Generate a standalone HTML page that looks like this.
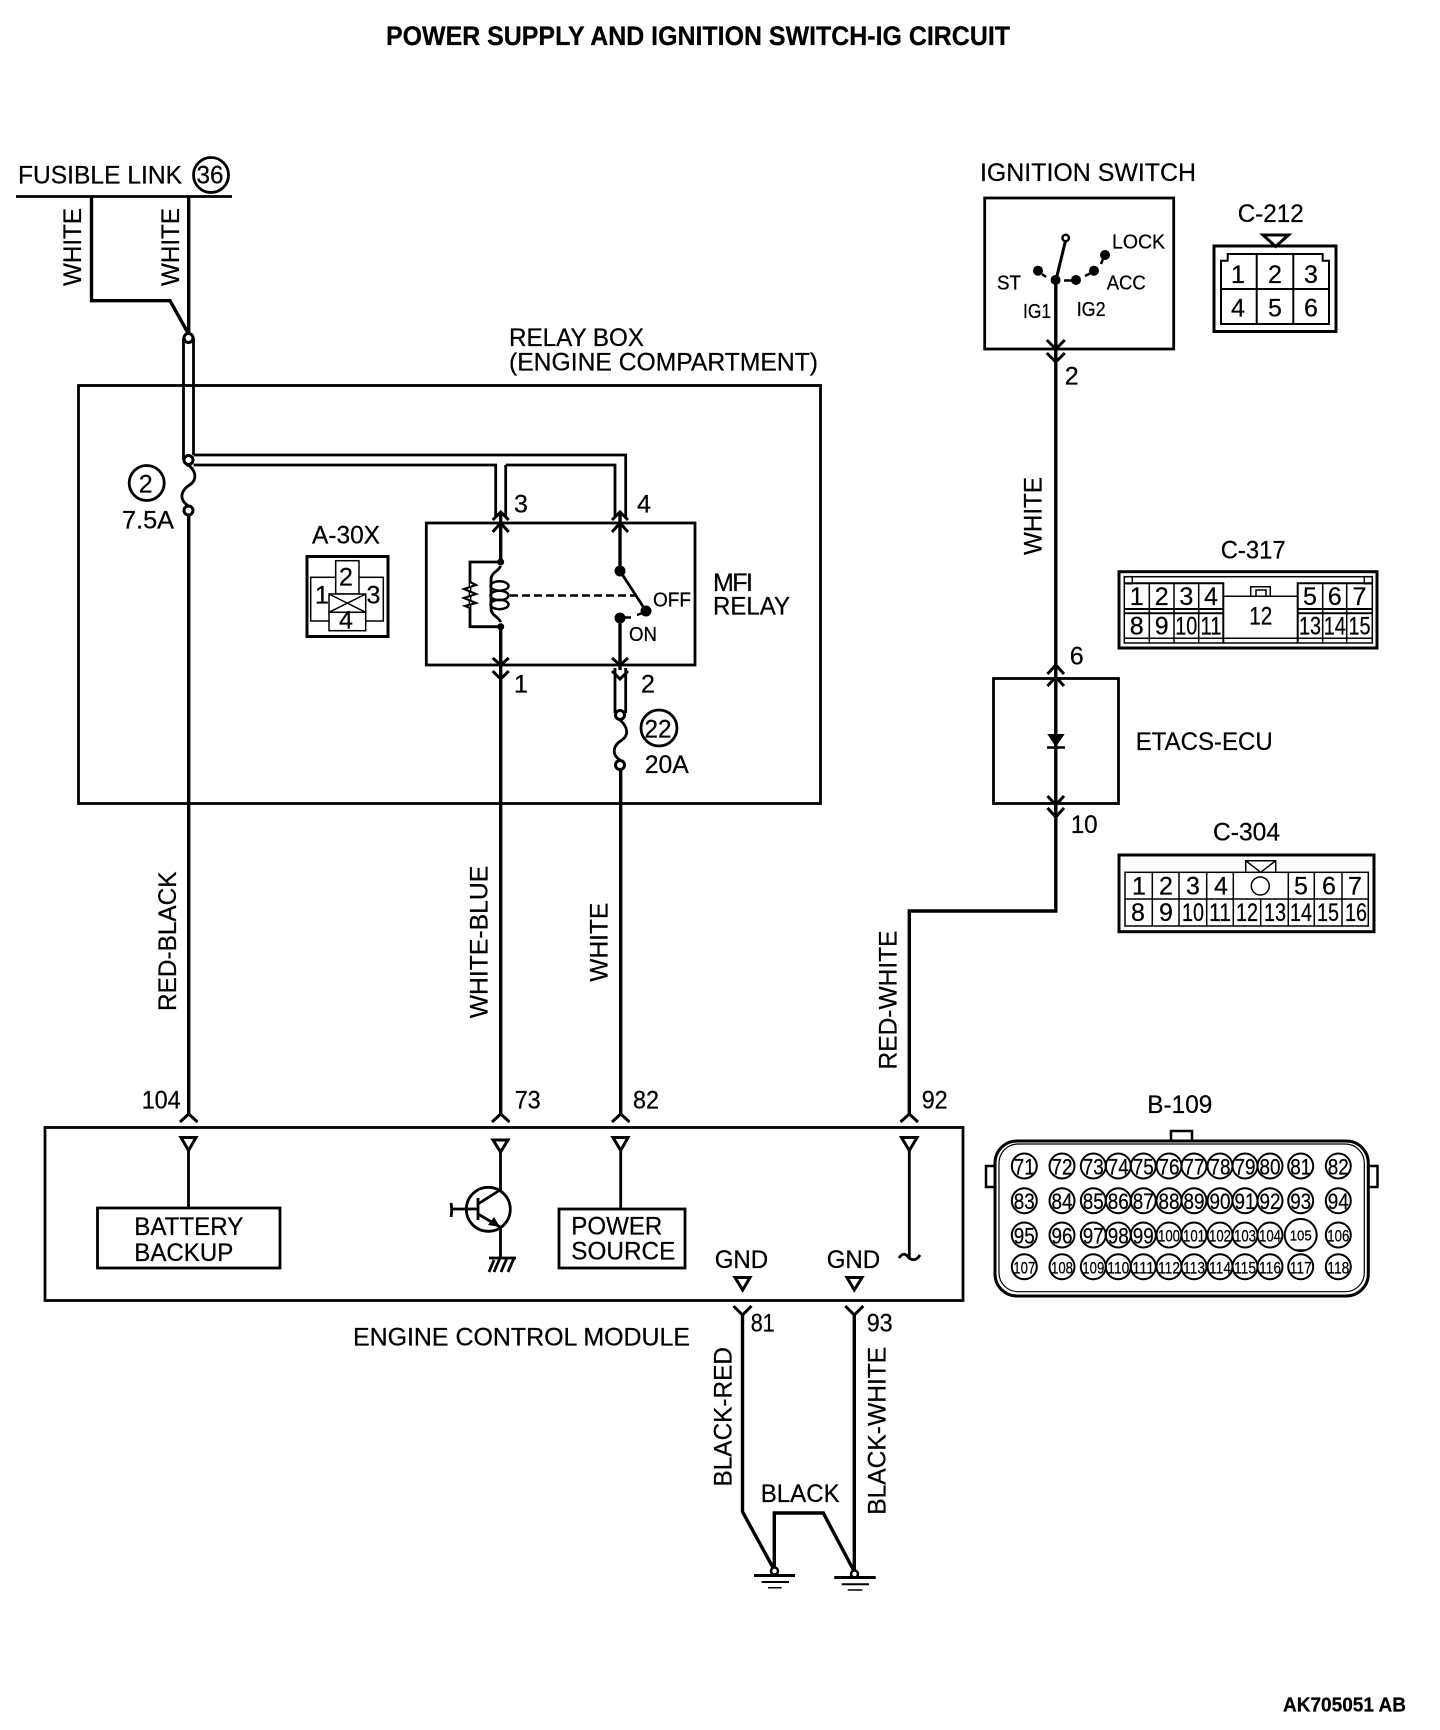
<!DOCTYPE html>
<html><head><meta charset="utf-8"><title>Power Supply and Ignition Switch-IG Circuit</title>
<style>
html,body{margin:0;padding:0;background:#fff}
svg{display:block}
text{font-family:"Liberation Sans",sans-serif;font-size:25px;fill:#000;stroke:#000;stroke-width:.25px}
text:not([transform]){transform:translate(-1px,.5px)}
.m{text-anchor:middle}
.s{font-size:20px}
.b{font-weight:bold}
</style></head><body>
<svg xmlns="http://www.w3.org/2000/svg" width="1440" height="1730" viewBox="0 0 1440 1730">
<rect width="1440" height="1730" fill="#fff"/>

<!-- Boxes -->
<g fill="none" stroke="#000" stroke-width="2.8">
<rect x="78.5" y="385.5" width="742" height="418"/>
<rect x="426.3" y="523" width="268.7" height="142"/>
<rect x="984.7" y="198" width="189" height="151"/>
<rect x="993.5" y="678.5" width="125" height="125"/>
<rect x="45" y="1127.5" width="918" height="173"/>
<rect x="97.5" y="1208" width="182.5" height="60"/>
<rect x="559" y="1209" width="126" height="59"/>
</g>

<!-- Main wires -->
<g fill="none" stroke="#000" stroke-width="3.4">
<path d="M188.7 196V334"/>
<path d="M188.7 515V1114"/>
<path d="M500.7 626V1114"/>
<path d="M620.7 770V1114"/>
<path d="M500.7 513V562"/>
<path d="M620 513V571"/>
<path d="M620 618V670"/>
<path d="M1055.8 280V665"/>
<path d="M1055.8 665V911H909.3V1114"/>
<path d="M742.5 1313V1511.7L774.3 1570"/>
<path d="M854.3 1313V1571"/>
<path d="M774.3 1570V1513H823.3L854 1571"/>
<path d="M91.5 196V300.7H170L188 333"/>
</g>

<!-- Double wires -->
<g fill="none" stroke="#000" stroke-width="2.8">
<path d="M183.5 338V460M193.5 338V455"/>
<path d="M193.5 455H625.7V517M193.5 465H495.7V517M505.7 465H615V517M505.7 465V517"/>
<path d="M615 668V713M625.7 668V713"/>
<path d="M16 196.5H232"/>
</g>
<path d="M183.5 338L188.5 332L193.5 338M183.5 460L188.5 466" fill="none" stroke="#000" stroke-width="3"/>

<!-- Junction nodes & fuses -->
<g fill="#fff" stroke="#000" stroke-width="3">
<circle cx="188.5" cy="338" r="4.5"/>
<circle cx="188.5" cy="460" r="4.5"/>
<circle cx="188.5" cy="510.5" r="4.5"/>
<circle cx="620" cy="715" r="4.5"/>
<circle cx="620" cy="765" r="4.5"/>
</g>
<g fill="none" stroke="#000" stroke-width="2.8">
<path d="M188.5 465C196 471 197 479 191 484C181 490 178 499 188.5 506"/>
<path d="M620 720C628 727 629 735 622 740C612 746 612 755 620 760"/>
<circle cx="211" cy="175" r="17.5"/>
<circle cx="146.7" cy="483" r="17.5"/>
<circle cx="659" cy="728" r="18"/>
</g>

<!-- Chevrons -->
<g fill="none" stroke="#000" stroke-width="3">
<path d="M492.7 520L500.7 512L508.7 520M492.7 532L500.7 523L508.7 532"/>
<path d="M612 520L620 512L628 520M612 532L620 523L628 532"/>
<path d="M492.7 658L500.7 665L508.7 658M492.7 671L500.7 679L508.7 671"/>
<path d="M612 658L620 665L628 658M612 671L620 679L628 671"/>
<path d="M1046.8 340L1055.8 349L1064.8 340M1046.8 353L1055.8 362L1064.8 353"/>
<path d="M1047.5 674L1055.8 665L1064 674M1047.5 686L1055.8 677L1064 686"/>
<path d="M1047.5 796L1055.8 805L1064 796M1047.5 808L1055.8 817L1064 808"/>
<path d="M180 1122L188.7 1114L197.5 1122"/>
<path d="M492 1122L500.7 1114L509.5 1122"/>
<path d="M612 1122L620.7 1114L629.5 1122"/>
<path d="M900.5 1122L909.3 1114L918 1122"/>
<path d="M733.5 1306L742.5 1315L751.5 1306"/>
<path d="M845.3 1306L854.3 1315L863.3 1306"/>
</g>

<!-- Relay internals -->
<g fill="#000" stroke="none">
<circle cx="500.7" cy="562" r="3.5"/>
<circle cx="500.7" cy="626.7" r="3.5"/>
<circle cx="620" cy="571" r="5.5"/>
<circle cx="646" cy="611" r="5.5"/>
<circle cx="620" cy="618" r="5.5"/>
</g>
<g fill="none" stroke="#000" stroke-width="2.8">
<path d="M500.7 562H470V626.7H500.7"/>
<path d="M470 582L476 585L464 589L476 594L464 598L476 603L465 606L470 608" stroke-width="2.2" fill="#fff"/>
<path d="M500.7 566C498 572 491 572 491 580V608C491 616 498 616 500.7 622"/>
<ellipse cx="499.5" cy="586" rx="9" ry="4.7" stroke-width="2.5"/>
<ellipse cx="499.5" cy="595.5" rx="9" ry="4.7" stroke-width="2.5"/>
<ellipse cx="499.5" cy="604.5" rx="9" ry="4.7" stroke-width="2.5"/>
<path d="M620 571L646 611"/>
<path d="M510 595.5H636" stroke-dasharray="8 4" stroke-width="2.5"/>
<path d="M620 617.5H631" stroke-width="2.5"/>
<path d="M637 615L644 612.5" stroke-width="2.5"/>
</g>

<!-- A-30X -->
<g fill="none" stroke="#000" stroke-width="3"><rect x="307" y="556.5" width="81" height="80"/></g>
<g fill="none" stroke="#000" stroke-width="1.5">
<rect x="310.7" y="577.3" width="72.6" height="43.7"/>
<rect x="335.7" y="560.7" width="23.3" height="33.3" fill="#fff"/>
<rect x="329" y="594" width="36.7" height="18.3" fill="#fff"/>
<path d="M329 594L365.7 612.3M365.7 594L329 612.3"/>
<rect x="329" y="612.3" width="36.7" height="18.4" fill="#fff"/>
</g>

<!-- Ignition switch internals -->
<g fill="#000" stroke="none">
<circle cx="1055.6" cy="280" r="5"/>
<circle cx="1076" cy="280" r="5"/>
<circle cx="1094" cy="270.7" r="5"/>
<circle cx="1105" cy="255" r="5"/>
<circle cx="1038" cy="270.7" r="5"/>
</g>
<g fill="none" stroke="#000" stroke-width="2.5">
<path d="M1065.7 240L1056 280" stroke-width="3"/>
<path d="M1064 280.5H1072M1085 276L1090 273.5M1101 264L1103 259M1042 274L1046 277"/>
<circle cx="1065.7" cy="238" r="3.2" fill="#fff"/>
</g>

<!-- C-212 -->
<g fill="none" stroke="#000">
<rect x="1214" y="246" width="122" height="85.5" stroke-width="3"/>
<path d="M1221 324V260.7H1227.7V254H1322.7V260.7H1329V324Z" stroke-width="2"/>
<path d="M1256.7 254V324M1293.3 254V324M1221 289H1329" stroke-width="2"/>
<path d="M1263 235H1288.5L1275.7 246.5Z" stroke-width="3" fill="#fff"/>
</g>

<!-- C-317 -->
<g fill="none" stroke="#000">
<rect x="1119" y="571.7" width="258" height="76.3" stroke-width="3"/>
<rect x="1124.3" y="576.7" width="248" height="66.3" stroke-width="1.5"/>
<rect x="1124.3" y="576.7" width="8" height="7" stroke-width="1.5"/>
<rect x="1364.3" y="576.7" width="8" height="7" stroke-width="1.5"/>
<path d="M1124.3 583.3H1223.3V643M1297.7 643V583.3H1372.3" stroke-width="2"/>
<path d="M1124.3 609H1223.3M1124.3 613.3H1223.3M1297.7 609H1372.3M1297.7 613.3H1372.3" stroke-width="2"/>
<path d="M1149.3 583.3V643M1174 583.3V643M1198.7 583.3V643M1322.7 583.3V643M1346.7 583.3V643" stroke-width="1.5"/>
<path d="M1124.3 638.3H1372.3" stroke-width="1.5"/>
<path d="M1223.3 596.3H1297.7" stroke-width="1.5"/>
<path d="M1250.7 596.3V586.7H1270.3V596.3M1256 596.3V590H1266V596.3" stroke-width="1.5"/>
</g>

<!-- Diode -->
<path d="M1047.3 734H1064.7L1055.7 747Z" fill="#000"/>
<path d="M1047 747.5H1065" stroke="#000" stroke-width="2.5"/>

<!-- C-304 -->
<g fill="none" stroke="#000">
<rect x="1119" y="855" width="255" height="76.7" stroke-width="3"/>
<rect x="1125" y="872.3" width="243.3" height="53.7" stroke-width="1.5"/>
<path d="M1125 899H1368.3" stroke-width="1.5"/>
<path d="M1152.3 872.3V926M1179 872.3V926M1206.7 872.3V926M1233.3 872.3V926M1288.3 872.3V926M1314.3 872.3V926M1342 872.3V926M1260.7 899V926" stroke-width="1.5"/>
<path d="M1245.7 872.3V860.7H1275.7V872.3M1245.7 860.7L1260.7 872.3L1275.7 860.7" stroke-width="1.5"/>
<circle cx="1260.3" cy="886" r="9" stroke-width="1.5"/>
</g>

<!-- B-109 shell -->
<g fill="none" stroke="#000">
<rect x="1171" y="1131" width="21" height="11" stroke-width="2.5"/>
<rect x="986" y="1166" width="9.5" height="21" stroke-width="2.5"/>
<rect x="1368" y="1166" width="9.5" height="21" stroke-width="2.5"/>
<rect x="995" y="1141" width="373.3" height="155" rx="22" ry="22" stroke-width="3" fill="#fff"/>
<rect x="999" y="1144" width="365.3" height="147.7" rx="19" ry="19" stroke-width="1.2"/>
</g>
<g fill="none" stroke="#000" stroke-width="2">
<circle cx="1024.3" cy="1166" r="12.5"/><circle cx="1062" cy="1166" r="12.5"/><circle cx="1093.3" cy="1166" r="12.5"/><circle cx="1118.3" cy="1166" r="12.5"/><circle cx="1143.3" cy="1166" r="12.5"/><circle cx="1169" cy="1166" r="12.5"/><circle cx="1194" cy="1166" r="12.5"/><circle cx="1220" cy="1166" r="12.5"/><circle cx="1245" cy="1166" r="12.5"/><circle cx="1270" cy="1166" r="12.5"/><circle cx="1300.7" cy="1166" r="12.5"/><circle cx="1338.3" cy="1166" r="12.5"/>
<circle cx="1024.3" cy="1200.7" r="12.5"/><circle cx="1062" cy="1200.7" r="12.5"/><circle cx="1093.3" cy="1200.7" r="12.5"/><circle cx="1118.3" cy="1200.7" r="12.5"/><circle cx="1143.3" cy="1200.7" r="12.5"/><circle cx="1169" cy="1200.7" r="12.5"/><circle cx="1194" cy="1200.7" r="12.5"/><circle cx="1220" cy="1200.7" r="12.5"/><circle cx="1245" cy="1200.7" r="12.5"/><circle cx="1270" cy="1200.7" r="12.5"/><circle cx="1300.7" cy="1200.7" r="12.5"/><circle cx="1338.3" cy="1200.7" r="12.5"/>
<circle cx="1024.3" cy="1235" r="12.5"/><circle cx="1062" cy="1235" r="12.5"/><circle cx="1093.3" cy="1235" r="12.5"/><circle cx="1118.3" cy="1235" r="12.5"/><circle cx="1143.3" cy="1235" r="12.5"/><circle cx="1169" cy="1235" r="12.5"/><circle cx="1194" cy="1235" r="12.5"/><circle cx="1220" cy="1235" r="12.5"/><circle cx="1245" cy="1235" r="12.5"/><circle cx="1270" cy="1235" r="12.5"/><circle cx="1300.7" cy="1235" r="16"/><circle cx="1338.3" cy="1235" r="12.5"/>
<circle cx="1024.3" cy="1266.7" r="12.5"/><circle cx="1062" cy="1266.7" r="12.5"/><circle cx="1093.3" cy="1266.7" r="12.5"/><circle cx="1118.3" cy="1266.7" r="12.5"/><circle cx="1143.3" cy="1266.7" r="12.5"/><circle cx="1169" cy="1266.7" r="12.5"/><circle cx="1194" cy="1266.7" r="12.5"/><circle cx="1220" cy="1266.7" r="12.5"/><circle cx="1245" cy="1266.7" r="12.5"/><circle cx="1270" cy="1266.7" r="12.5"/><circle cx="1300.7" cy="1266.7" r="12.5"/><circle cx="1338.3" cy="1266.7" r="12.5"/>
<path d="M1295 1250H1306" stroke-width="1.5"/>
</g>

<!-- ECM internals -->
<g fill="#fff" stroke="#000" stroke-width="3">
<path d="M181 1137.5H196L188.5 1150.5Z"/>
<path d="M493 1140H508L500.5 1152Z"/>
<path d="M613 1137.5H628L620.7 1150.5Z"/>
<path d="M901.5 1137.5H917L909.3 1150.5Z"/>
<path d="M735 1277.5H750L742.7 1290Z"/>
<path d="M847 1277.5H862L854.3 1290Z"/>
</g>
<g fill="none" stroke="#000" stroke-width="2.8">
<path d="M188.5 1150V1208"/>
<path d="M500.5 1152V1190"/>
<path d="M620.7 1150V1209"/>
<path d="M909.3 1150V1258"/>
<path d="M899 1258C903 1252 906 1254 909 1258C913 1261 917 1260 920 1255"/>
<circle cx="488.3" cy="1209.3" r="22"/>
<path d="M451.5 1209H478M478 1198V1220M478 1204L500 1190M478 1214L500 1227M500.5 1227V1258"/>
<path d="M451 1203C452 1208 452 1212 451 1217"/>
<path d="M489 1258H516M494 1272L500 1258M501 1272L507 1258M508 1272L514 1258M489 1272L494 1260"/>
</g>
<path d="M500 1227L488 1225L494 1217Z" fill="#000"/>

<!-- Grounds -->
<g fill="#fff" stroke="#000" stroke-width="2.5">
<circle cx="774.5" cy="1571" r="3.5"/>
<circle cx="854.5" cy="1574" r="3.5"/>
</g>
<g fill="none" stroke="#000">
<path d="M754 1575.5H795M834.3 1577.5H875.7" stroke-width="3"/>
<path d="M761.7 1582H789M841.7 1584.3H869" stroke-width="2"/>
<path d="M768 1587.7H781.7M847.7 1590H862.3" stroke-width="1.5"/>
</g>

<!-- Text labels -->
<text style="font-size:27px" x="387" y="44.5" class="b" textLength="624" lengthAdjust="spacingAndGlyphs">POWER SUPPLY AND IGNITION SWITCH-IG CIRCUIT</text>
<text x="19" y="183" textLength="164" lengthAdjust="spacingAndGlyphs">FUSIBLE LINK</text>
<text x="211" y="183" class="m" textLength="27" lengthAdjust="spacingAndGlyphs">36</text>
<text x="146.7" y="492" class="m">2</text>
<text x="123" y="528" textLength="52" lengthAdjust="spacingAndGlyphs">7.5A</text>
<text x="510" y="345.7" textLength="135" lengthAdjust="spacingAndGlyphs">RELAY BOX</text>
<text x="510" y="370" textLength="309" lengthAdjust="spacingAndGlyphs">(ENGINE COMPARTMENT)</text>
<text x="313" y="543" textLength="68" lengthAdjust="spacingAndGlyphs">A-30X</text>
<text x="347" y="585" class="m">2</text>
<text x="316" y="603">1</text>
<text x="367.5" y="603">3</text>
<text x="347" y="628" class="m">4</text>
<text x="515" y="512">3</text>
<text x="638" y="512">4</text>
<text x="515" y="692">1</text>
<text x="642" y="692">2</text>
<text x="714" y="590.7" textLength="40" lengthAdjust="spacing">MFI</text>
<text x="714" y="614" textLength="77" lengthAdjust="spacingAndGlyphs">RELAY</text>
<text x="654" y="606" class="s" textLength="38" lengthAdjust="spacingAndGlyphs">OFF</text>
<text x="630" y="640.7" class="s" textLength="28" lengthAdjust="spacingAndGlyphs">ON</text>
<text x="659" y="737" class="m" textLength="27" lengthAdjust="spacingAndGlyphs">22</text>
<text x="645.7" y="772.7" textLength="44" lengthAdjust="spacingAndGlyphs">20A</text>

<text x="981" y="180.7" textLength="216" lengthAdjust="spacingAndGlyphs">IGNITION SWITCH</text>
<text x="1113" y="248" class="s" textLength="53" lengthAdjust="spacingAndGlyphs">LOCK</text>
<text x="998" y="289" class="s" textLength="24" lengthAdjust="spacingAndGlyphs">ST</text>
<text x="1107.7" y="289" class="s" textLength="39" lengthAdjust="spacingAndGlyphs">ACC</text>
<text x="1024" y="317.7" class="s" textLength="28" lengthAdjust="spacingAndGlyphs">IG1</text>
<text x="1077.7" y="315.7" class="s" textLength="29" lengthAdjust="spacingAndGlyphs">IG2</text>
<text x="1065.7" y="384">2</text>
<text x="1238.7" y="221.7" textLength="66" lengthAdjust="spacingAndGlyphs">C-212</text>
<text x="1239" y="282.7" class="m">1</text><text x="1276" y="282.7" class="m">2</text><text x="1312" y="282.7" class="m">3</text>
<text x="1239" y="316" class="m">4</text><text x="1276" y="316" class="m">5</text><text x="1312" y="316" class="m">6</text>

<text x="1221.7" y="558" textLength="65" lengthAdjust="spacingAndGlyphs">C-317</text>
<text x="1137.7" y="604.3" class="m">1</text><text x="1162.7" y="604.3" class="m">2</text><text x="1187.3" y="604.3" class="m">3</text><text x="1212" y="604.3" class="m">4</text>
<text x="1311" y="604.3" class="m">5</text><text x="1335.7" y="604.3" class="m">6</text><text x="1360.5" y="604.3" class="m">7</text>
<text x="1137.7" y="634" class="m">8</text><text x="1162.7" y="634" class="m">9</text>
<text x="1187.3" y="634" class="m" textLength="22" lengthAdjust="spacingAndGlyphs">10</text>
<text x="1212" y="634" class="m" textLength="21" lengthAdjust="spacingAndGlyphs">11</text>
<text x="1311" y="634" class="m" textLength="22" lengthAdjust="spacingAndGlyphs">13</text>
<text x="1335.7" y="634" class="m" textLength="22" lengthAdjust="spacingAndGlyphs">14</text>
<text x="1360.5" y="634" class="m" textLength="22" lengthAdjust="spacingAndGlyphs">15</text>
<text x="1261.7" y="624" class="m" textLength="23" lengthAdjust="spacingAndGlyphs">12</text>

<text x="1070.7" y="664">6</text>
<text x="1071.7" y="832.7" textLength="27" lengthAdjust="spacingAndGlyphs">10</text>
<text x="1136.7" y="749.3" textLength="137" lengthAdjust="spacingAndGlyphs">ETACS-ECU</text>

<text x="1214" y="840" textLength="67" lengthAdjust="spacingAndGlyphs">C-304</text>
<text x="1140" y="894" class="m">1</text><text x="1167" y="894" class="m">2</text><text x="1194" y="894" class="m">3</text><text x="1222" y="894" class="m">4</text>
<text x="1302" y="894" class="m">5</text><text x="1330" y="894" class="m">6</text><text x="1356" y="894" class="m">7</text>
<text x="1139" y="920.7" class="m">8</text><text x="1167" y="920.7" class="m">9</text>
<text x="1194" y="920.7" class="m" textLength="22" lengthAdjust="spacingAndGlyphs">10</text>
<text x="1221" y="920.7" class="m" textLength="22" lengthAdjust="spacingAndGlyphs">11</text>
<text x="1248" y="920.7" class="m" textLength="22" lengthAdjust="spacingAndGlyphs">12</text>
<text x="1276" y="920.7" class="m" textLength="22" lengthAdjust="spacingAndGlyphs">13</text>
<text x="1302" y="920.7" class="m" textLength="22" lengthAdjust="spacingAndGlyphs">14</text>
<text x="1329" y="920.7" class="m" textLength="22" lengthAdjust="spacingAndGlyphs">15</text>
<text x="1357" y="920.7" class="m" textLength="22" lengthAdjust="spacingAndGlyphs">16</text>

<text x="1148.3" y="1112.7" textLength="65" lengthAdjust="spacingAndGlyphs">B-109</text>
<g style="font-size:22px">
<text style="font-size:22px" x="1025.3" y="1174" class="m" textLength="21" lengthAdjust="spacingAndGlyphs">71</text>
<text style="font-size:22px" x="1063" y="1174" class="m" textLength="21" lengthAdjust="spacingAndGlyphs">72</text>
<text style="font-size:22px" x="1094.3" y="1174" class="m" textLength="21" lengthAdjust="spacingAndGlyphs">73</text>
<text style="font-size:22px" x="1119.3" y="1174" class="m" textLength="21" lengthAdjust="spacingAndGlyphs">74</text>
<text style="font-size:22px" x="1144.3" y="1174" class="m" textLength="21" lengthAdjust="spacingAndGlyphs">75</text>
<text style="font-size:22px" x="1170" y="1174" class="m" textLength="21" lengthAdjust="spacingAndGlyphs">76</text>
<text style="font-size:22px" x="1195" y="1174" class="m" textLength="21" lengthAdjust="spacingAndGlyphs">77</text>
<text style="font-size:22px" x="1221" y="1174" class="m" textLength="21" lengthAdjust="spacingAndGlyphs">78</text>
<text style="font-size:22px" x="1246" y="1174" class="m" textLength="21" lengthAdjust="spacingAndGlyphs">79</text>
<text style="font-size:22px" x="1271" y="1174" class="m" textLength="21" lengthAdjust="spacingAndGlyphs">80</text>
<text style="font-size:22px" x="1301.7" y="1174" class="m" textLength="21" lengthAdjust="spacingAndGlyphs">81</text>
<text style="font-size:22px" x="1339.3" y="1174" class="m" textLength="21" lengthAdjust="spacingAndGlyphs">82</text>
<text style="font-size:22px" x="1025.3" y="1208.7" class="m" textLength="21" lengthAdjust="spacingAndGlyphs">83</text>
<text style="font-size:22px" x="1063" y="1208.7" class="m" textLength="21" lengthAdjust="spacingAndGlyphs">84</text>
<text style="font-size:22px" x="1094.3" y="1208.7" class="m" textLength="21" lengthAdjust="spacingAndGlyphs">85</text>
<text style="font-size:22px" x="1119.3" y="1208.7" class="m" textLength="21" lengthAdjust="spacingAndGlyphs">86</text>
<text style="font-size:22px" x="1144.3" y="1208.7" class="m" textLength="21" lengthAdjust="spacingAndGlyphs">87</text>
<text style="font-size:22px" x="1170" y="1208.7" class="m" textLength="21" lengthAdjust="spacingAndGlyphs">88</text>
<text style="font-size:22px" x="1195" y="1208.7" class="m" textLength="21" lengthAdjust="spacingAndGlyphs">89</text>
<text style="font-size:22px" x="1221" y="1208.7" class="m" textLength="21" lengthAdjust="spacingAndGlyphs">90</text>
<text style="font-size:22px" x="1246" y="1208.7" class="m" textLength="21" lengthAdjust="spacingAndGlyphs">91</text>
<text style="font-size:22px" x="1271" y="1208.7" class="m" textLength="21" lengthAdjust="spacingAndGlyphs">92</text>
<text style="font-size:22px" x="1301.7" y="1208.7" class="m" textLength="21" lengthAdjust="spacingAndGlyphs">93</text>
<text style="font-size:22px" x="1339.3" y="1208.7" class="m" textLength="21" lengthAdjust="spacingAndGlyphs">94</text>
<text style="font-size:22px" x="1025.3" y="1243" class="m" textLength="21" lengthAdjust="spacingAndGlyphs">95</text>
<text style="font-size:22px" x="1063" y="1243" class="m" textLength="21" lengthAdjust="spacingAndGlyphs">96</text>
<text style="font-size:22px" x="1094.3" y="1243" class="m" textLength="21" lengthAdjust="spacingAndGlyphs">97</text>
<text style="font-size:22px" x="1119.3" y="1243" class="m" textLength="21" lengthAdjust="spacingAndGlyphs">98</text>
<text style="font-size:22px" x="1144.3" y="1243" class="m" textLength="21" lengthAdjust="spacingAndGlyphs">99</text>
</g>
<text style="font-size:17px" x="1170" y="1241" class="m" textLength="22" lengthAdjust="spacingAndGlyphs">100</text>
<text style="font-size:17px" x="1195" y="1241" class="m" textLength="22" lengthAdjust="spacingAndGlyphs">101</text>
<text style="font-size:17px" x="1221" y="1241" class="m" textLength="22" lengthAdjust="spacingAndGlyphs">102</text>
<text style="font-size:17px" x="1246" y="1241" class="m" textLength="22" lengthAdjust="spacingAndGlyphs">103</text>
<text style="font-size:17px" x="1271" y="1241" class="m" textLength="22" lengthAdjust="spacingAndGlyphs">104</text>
<text style="font-size:15px" x="1301.7" y="1240" class="m" textLength="22" lengthAdjust="spacingAndGlyphs">105</text>
<text style="font-size:17px" x="1339.3" y="1241" class="m" textLength="22" lengthAdjust="spacingAndGlyphs">106</text>
<text style="font-size:17px" x="1025.3" y="1273" class="m" textLength="22" lengthAdjust="spacingAndGlyphs">107</text>
<text style="font-size:17px" x="1063" y="1273" class="m" textLength="22" lengthAdjust="spacingAndGlyphs">108</text>
<text style="font-size:17px" x="1094.3" y="1273" class="m" textLength="22" lengthAdjust="spacingAndGlyphs">109</text>
<text style="font-size:17px" x="1119.3" y="1273" class="m" textLength="22" lengthAdjust="spacingAndGlyphs">110</text>
<text style="font-size:17px" x="1144.3" y="1273" class="m" textLength="22" lengthAdjust="spacingAndGlyphs">111</text>
<text style="font-size:17px" x="1170" y="1273" class="m" textLength="22" lengthAdjust="spacingAndGlyphs">112</text>
<text style="font-size:17px" x="1195" y="1273" class="m" textLength="22" lengthAdjust="spacingAndGlyphs">113</text>
<text style="font-size:17px" x="1221" y="1273" class="m" textLength="22" lengthAdjust="spacingAndGlyphs">114</text>
<text style="font-size:17px" x="1246" y="1273" class="m" textLength="22" lengthAdjust="spacingAndGlyphs">115</text>
<text style="font-size:17px" x="1271" y="1273" class="m" textLength="22" lengthAdjust="spacingAndGlyphs">116</text>
<text style="font-size:17px" x="1301.7" y="1273" class="m" textLength="22" lengthAdjust="spacingAndGlyphs">117</text>
<text style="font-size:17px" x="1339.3" y="1273" class="m" textLength="22" lengthAdjust="spacingAndGlyphs">118</text>

<text x="142.7" y="1108" textLength="39" lengthAdjust="spacingAndGlyphs">104</text>
<text x="515.7" y="1108" textLength="26" lengthAdjust="spacingAndGlyphs">73</text>
<text x="634" y="1108" textLength="26" lengthAdjust="spacingAndGlyphs">82</text>
<text x="922.7" y="1108" textLength="26" lengthAdjust="spacingAndGlyphs">92</text>
<text x="135.3" y="1234.3" textLength="109" lengthAdjust="spacingAndGlyphs">BATTERY</text>
<text x="135.3" y="1260.3" textLength="99" lengthAdjust="spacingAndGlyphs">BACKUP</text>
<text x="572.3" y="1234" textLength="91" lengthAdjust="spacingAndGlyphs">POWER</text>
<text x="572.3" y="1259" textLength="104" lengthAdjust="spacingAndGlyphs">SOURCE</text>
<text x="715.7" y="1267.7" textLength="53.5" lengthAdjust="spacingAndGlyphs">GND</text>
<text x="827.7" y="1267.7" textLength="53.5" lengthAdjust="spacingAndGlyphs">GND</text>
<text x="354" y="1345" textLength="337" lengthAdjust="spacingAndGlyphs">ENGINE CONTROL MODULE</text>
<text x="751.7" y="1331" textLength="24" lengthAdjust="spacingAndGlyphs">81</text>
<text x="867.7" y="1331" textLength="26" lengthAdjust="spacingAndGlyphs">93</text>
<text x="761.7" y="1501.7" textLength="79" lengthAdjust="spacingAndGlyphs">BLACK</text>
<text x="1284" y="1711" class="s b" textLength="123" lengthAdjust="spacingAndGlyphs">AK705051 AB</text>

<!-- Vertical wire labels -->
<text transform="translate(81 286) rotate(-90)" textLength="78" lengthAdjust="spacingAndGlyphs">WHITE</text>
<text transform="translate(179 286) rotate(-90)" textLength="78" lengthAdjust="spacingAndGlyphs">WHITE</text>
<text transform="translate(1041.7 555) rotate(-90)" textLength="78" lengthAdjust="spacingAndGlyphs">WHITE</text>
<text transform="translate(176 1011) rotate(-90)" textLength="139.5" lengthAdjust="spacingAndGlyphs">RED-BLACK</text>
<text transform="translate(487.7 1018.3) rotate(-90)" textLength="152.5" lengthAdjust="spacingAndGlyphs">WHITE-BLUE</text>
<text transform="translate(607.7 981.7) rotate(-90)" textLength="79" lengthAdjust="spacingAndGlyphs">WHITE</text>
<text transform="translate(896.7 1069.5) rotate(-90)" textLength="139" lengthAdjust="spacingAndGlyphs">RED-WHITE</text>
<text transform="translate(731.7 1486.5) rotate(-90)" textLength="139.5" lengthAdjust="spacingAndGlyphs">BLACK-RED</text>
<text transform="translate(885.7 1514.8) rotate(-90)" textLength="168" lengthAdjust="spacingAndGlyphs">BLACK-WHITE</text>
</svg>
</body></html>
